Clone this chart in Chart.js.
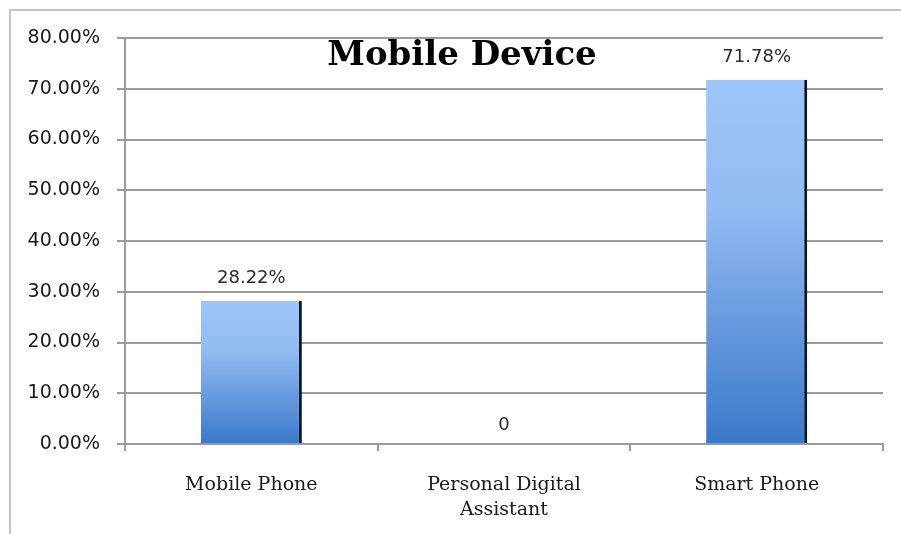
<!DOCTYPE html>
<html>
<head>
<meta charset="utf-8">
<script src="https://cdn.jsdelivr.net/npm/chart.js@4"></script>
<style>
  html, body { margin: 0; padding: 0; background: #fff; }
  #wrap { position: relative; width: 901px; height: 534px; overflow: hidden; }
  #frame { position: absolute; left: 9px; top: 9px; width: 900px; height: 600px;
           border-left: 2px solid #c4c4c4; border-top: 2px solid #c4c4c4; }
  canvas { position: absolute; left: 0; top: 0; }
</style>
</head>
<body>
<div id="wrap">
  <div id="frame"></div>
  <canvas id="bar-chart" width="901" height="534"></canvas>
</div>
<script>
const categories = ['Mobile Phone', ['Personal Digital', 'Assistant'], 'Smart Phone']
const shares = [0.2822, 0, 0.7178]
const shareLabels = ['28.22%', '0', '71.78%']
const yTicks = [0, 0.1, 0.2, 0.3, 0.4, 0.5, 0.6, 0.7, 0.8]

// vertical gradient per bar, light on top, darker blue at the base
const barFill = (ctx) => {
   const chart = ctx.chart
   const y = chart.scales.y
   if (!y || ctx.raw === undefined) return '#6a9ee4'
   const top = y.getPixelForValue(ctx.raw)
   const bottom = y.getPixelForValue(0)
   if (!isFinite(top) || !isFinite(bottom) || bottom - top < 1) return '#6a9ee4'
   const g = chart.ctx.createLinearGradient(0, top, 0, bottom)
   g.addColorStop(0, '#9ec5f8')
   g.addColorStop(0.35, '#92bbf2')
   g.addColorStop(1, '#3a78c9')
   return g
}

const extras = {
   id: 'extras',
   afterDatasetsDraw(chart) {
      const c = chart.ctx
      const meta = chart.getDatasetMeta(0)
      c.save()
      c.fillStyle = '#2a2a2a'
      c.font = '18px "DejaVu Sans"'
      c.textAlign = 'center'
      c.textBaseline = 'bottom'
      meta.data.forEach((bar, i) => {
         const yy = shares[i] === 0 ? bar.y - 10 : bar.y - 13
         c.fillText(shareLabels[i], bar.x, yy)
      })
      c.fillStyle = '#000'
      c.font = 'bold 34px "DejaVu Serif"'
      c.textBaseline = 'middle'
      c.fillText('Mobile Device', 462, 56)
      c.restore()
   }
}

const ctx = document.getElementById('bar-chart').getContext('2d')
const myChart = new Chart(ctx, {
   type: 'bar',
   data: {
      labels: categories,
      datasets: [
         {
            data: shares,
            backgroundColor: barFill,
            borderColor: '#0b1526',
            borderWidth: { top: 0, left: 0, bottom: 0, right: 3 },
            borderSkipped: false,
            barPercentage: 0.8,
            categoryPercentage: 0.5,
         },
      ],
   },
   options: {
      responsive: false,
      animation: false,
      events: [],
      layout: { padding: { top: 38, right: 18, left: 0, bottom: 0 } },
      plugins: {
         legend: { display: false },
         tooltip: { enabled: false },
      },
      scales: {
         x: {
            grid: {
               offset: true,
               drawOnChartArea: false,
               tickLength: 7,
               color: '#9a9a9a',
               lineWidth: 2,
            },
            border: { color: '#9a9a9a', width: 2 },
            ticks: {
               color: '#1a1a1a',
               font: { family: 'DejaVu Serif', size: 19, lineHeight: 1.35 },
               padding: 21,
               maxRotation: 0,
            },
            afterFit(scale) { scale.height = 90 },
         },
         y: {
            min: 0,
            max: 0.8,
            afterBuildTicks(scale) { scale.ticks = yTicks.map(v => ({ value: v })) },
            grid: { color: '#9a9a9a', lineWidth: 2, tickLength: 8 },
            border: { color: '#9a9a9a', width: 2 },
            ticks: {
               color: '#1a1a1a',
               font: { family: 'DejaVu Sans', size: 19 },
               padding: 17,
               callback: (v) => (v * 100).toFixed(2) + '%',
            },
            afterFit(scale) { scale.width = 125 },
         },
      },
   },
   plugins: [extras],
})
</script>
</body>
</html>
